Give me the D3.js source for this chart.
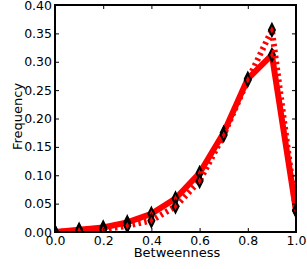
<!DOCTYPE html>
<html><head><meta charset="utf-8">
<script src="https://cdn.jsdelivr.net/npm/d3@7"></script>
<style>body{margin:0;background:#fff}svg{display:block}text{font-family:"DejaVu Sans",sans-serif;fill:#000}</style>
</head><body>
<svg id="c" width="307" height="269"></svg>
<script>
const xValues = [0.0, 0.1, 0.2, 0.3, 0.4, 0.5, 0.6, 0.7, 0.8, 0.9, 1.0];
const solidSeries = [0.0, 0.004, 0.008, 0.017, 0.032, 0.059, 0.104, 0.175, 0.27, 0.312, 0.038];
const dottedSeries = [0.0, 0.002, 0.004, 0.011, 0.020, 0.045, 0.090, 0.171, 0.268, 0.356, 0.038];
const xTicks = [0.0, 0.2, 0.4, 0.6, 0.8, 1.0];
const yTicks = [0.0, 0.05, 0.10, 0.15, 0.20, 0.25, 0.30, 0.35, 0.40];

const L = 55, R = 296, T = 5, B = 232;
const svg = d3.select("#c");
const x = d3.scaleLinear().domain([0, 1]).range([L, R]);
const y = d3.scaleLinear().domain([0, 0.4]).range([B, T]);

svg.append("defs").append("clipPath").attr("id", "clip")
  .append("rect").attr("x", L).attr("y", T).attr("width", R - L).attr("height", B - T);

const plot = svg.append("g").attr("clip-path", "url(#clip)");
const line = d3.line().x((d, i) => x(xValues[i])).y(d => y(d));
const diamond = "M0,-6L3,0L0,6L-3,0Z";

function drawSeries(vals, dash) {
  plot.append("path").datum(vals).attr("d", line)
    .attr("fill", "none").attr("stroke", "#ff0000").attr("stroke-width", 6)
    .attr("stroke-linejoin", "miter")
    .attr("stroke-dasharray", dash);
  plot.selectAll(null).data(vals).enter().append("path")
    .attr("d", diamond)
    .attr("transform", (d, i) => `translate(${x(xValues[i])},${y(d)})`)
    .attr("fill", "#ff0000").attr("stroke", "#000").attr("stroke-width", 2);
}
drawSeries(solidSeries, null);
drawSeries(dottedSeries, "2.5,3.5");

// axes
const xAxis = d3.axisBottom(x).tickValues(xTicks).tickFormat(d3.format(".1f")).tickSize(-4).tickPadding(4);
const yAxis = d3.axisLeft(y).tickValues(yTicks).tickFormat(d3.format(".2f")).tickSize(-4).tickPadding(3);
const gx = svg.append("g").attr("transform", `translate(0,${B})`).call(xAxis);
const gy = svg.append("g").attr("transform", `translate(${L},0)`).call(yAxis);
const gx2 = svg.append("g").attr("transform", `translate(0,${T})`).call(d3.axisTop(x).tickValues(xTicks).tickSize(-4).tickFormat(""));
const gy2 = svg.append("g").attr("transform", `translate(${R},0)`).call(d3.axisRight(y).tickValues(yTicks).tickSize(-4).tickFormat(""));
[gx, gy, gx2, gy2].forEach(g => {
  g.select(".domain").remove();
  g.selectAll(".tick line").attr("stroke", "#000").attr("stroke-width", 1);
  g.selectAll("text").attr("font-size", 12.5).attr("font-family", "DejaVu Sans");
});
gx.selectAll("text").attr("dy", "0.72em");
svg.append("rect").attr("x", L).attr("y", T).attr("width", R - L).attr("height", B - T)
  .attr("fill", "none").attr("stroke", "#000").attr("stroke-width", 2);

svg.append("text").attr("x", 177).attr("y", 257).attr("text-anchor", "middle")
  .attr("font-size", 13).text("Betweenness");
svg.append("text").attr("transform", `translate(22,116.5) rotate(-90)`)
  .attr("text-anchor", "middle").attr("font-size", 13).text("Frequency");
</script>
</body></html>
